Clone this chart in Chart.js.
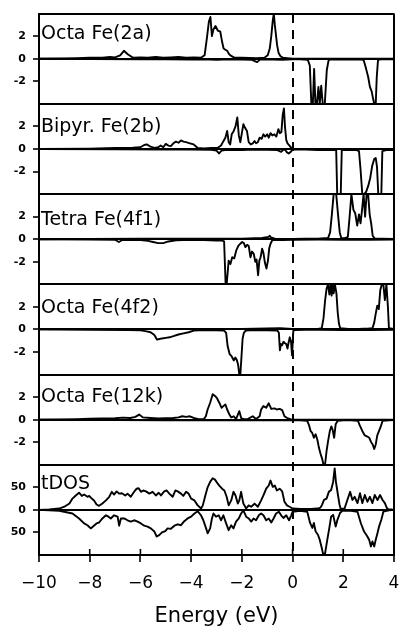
<!DOCTYPE html>
<html>
<head>
<meta charset="utf-8">
<script src="https://cdn.jsdelivr.net/npm/chart.js@4.4.1/dist/chart.umd.min.js"></script>
<style>
  html, body { margin: 0; padding: 0; background: #fff; }
  #wrap { width: 400px; height: 627px; }
</style>
</head>
<body>
<div id="wrap"><canvas id="c" width="400" height="627"></canvas></div>
<script>
// ---------- data (energy in eV, DOS values) ----------
const panelNames = ['Octa Fe(2a)', 'Bipyr. Fe(2b)', 'Tetra Fe(4f1)', 'Octa Fe(4f2)', 'Octa Fe(12k)', 'tDOS'];
const xTitle = 'Energy (eV)';
const xTicksStep = 2;
const pdosLimit = 4;     // partial DOS axis range +/-4, ticks -2, 0, 2
const pdosStep = 2;
const tdosLimit = 100;   // total DOS axis range, ticks at +/-50
const tdosStep = 50;

const fe2aUp = [[-10,0],[-9,0.02],[-8.5,0.05],[-8,0.08],[-7.5,0.1],[-7.2,0.15],[-7.0,0.12],[-6.8,0.3],[-6.65,0.7],[-6.5,0.4],[-6.3,0.1],[-6.0,0.12],[-5.7,0.08],[-5.4,0.15],[-5.1,0.1],[-4.8,0.12],[-4.5,0.15],[-4.2,0.1],[-3.9,0.12],[-3.6,0.1],[-3.47,0.3],[-3.38,1.8],[-3.3,3.3],[-3.24,3.7],[-3.18,2.0],[-3.12,2.6],[-3.04,2.9],[-2.95,2.5],[-2.85,2.4],[-2.78,1.5],[-2.72,0.9],[-2.65,0.8],[-2.58,0.7],[-2.5,0.4],[-2.42,0.25],[-2.3,0.1],[-2.0,0.08],[-1.7,0.06],[-1.4,0.05],[-1.1,0.1],[-0.98,0.3],[-0.9,0.9],[-0.84,2.0],[-0.78,3.4],[-0.74,4],[-0.7,3.0],[-0.66,2.2],[-0.61,1.2],[-0.55,0.5],[-0.47,0.2],[-0.38,0.1],[-0.2,0.05],[0,0],[4,0]];
const fe2aDown = [[-10,0],[-8,-0.03],[-6,-0.05],[-5,-0.05],[-4,-0.08],[-3.5,-0.05],[-3.0,-0.1],[-2.5,-0.05],[-2.0,-0.08],[-1.6,-0.1],[-1.4,-0.3],[-1.3,-0.1],[-1.2,-0.05],[-0.8,-0.08],[-0.4,-0.1],[0,-0.05],[0.3,-0.05],[0.6,-0.1],[0.68,-0.6],[0.74,-4],[0.8,-4],[0.85,-0.9],[0.9,-4],[0.96,-4],[1.02,-2.5],[1.07,-4],[1.13,-2.4],[1.19,-4],[1.27,-4],[1.35,-1.0],[1.42,-0.15],[1.5,-0.05],[2.0,-0.08],[2.5,-0.05],[2.8,-0.1],[2.9,-0.9],[2.98,-1.6],[3.05,-2.5],[3.12,-2.9],[3.18,-3.6],[3.22,-4],[3.28,-4],[3.32,-1.6],[3.37,-0.1],[3.5,-0.05],[4,-0.05]];

const fe2bUp = [[-10,0],[-8,0.03],[-7,0.08],[-6.3,0.1],[-6.0,0.15],[-5.85,0.35],[-5.75,0.4],[-5.6,0.2],[-5.45,0.1],[-5.3,0.15],[-5.2,0.3],[-5.1,0.15],[-5.0,0.45],[-4.9,0.3],[-4.8,0.25],[-4.7,0.5],[-4.6,0.65],[-4.5,0.55],[-4.4,0.75],[-4.3,0.65],[-4.2,0.6],[-4.05,0.5],[-3.9,0.4],[-3.75,0.1],[-3.5,0.05],[-3.2,0.08],[-2.95,0.1],[-2.82,0.3],[-2.75,0.6],[-2.65,1.0],[-2.58,1.6],[-2.52,0.6],[-2.46,0.4],[-2.4,1.3],[-2.32,1.6],[-2.25,2.0],[-2.18,2.8],[-2.12,1.2],[-2.06,0.6],[-2.0,1.4],[-1.94,2.2],[-1.88,1.9],[-1.8,1.6],[-1.73,0.6],[-1.65,0.4],[-1.57,0.5],[-1.5,0.7],[-1.44,0.5],[-1.37,0.6],[-1.3,1.0],[-1.22,0.9],[-1.15,1.3],[-1.08,1.1],[-1.0,1.3],[-0.94,1.0],[-0.87,1.4],[-0.8,1.2],[-0.72,1.3],[-0.64,1.1],[-0.56,1.75],[-0.5,1.4],[-0.44,1.5],[-0.39,3.0],[-0.34,3.6],[-0.3,2.0],[-0.25,0.8],[-0.2,0.5],[-0.12,0.3],[-0.05,0.1],[0,0],[4,0]];
const fe2bDown = [[-10,0],[-7,-0.03],[-5,-0.05],[-4,-0.05],[-3.2,-0.08],[-3.0,-0.15],[-2.9,-0.4],[-2.8,-0.15],[-2.6,-0.08],[-2.0,-0.1],[-1.5,-0.05],[-1.0,-0.08],[-0.6,-0.1],[-0.45,-0.25],[-0.38,-0.1],[-0.3,-0.05],[-0.22,-0.3],[-0.15,-0.4],[-0.05,-0.2],[0,-0.05],[0.5,-0.05],[1.0,-0.1],[1.5,-0.08],[1.72,-0.1],[1.76,-4],[1.9,-4],[1.94,-0.1],[2.2,-0.1],[2.5,-0.08],[2.62,-0.2],[2.68,-1.8],[2.75,-4],[2.82,-4],[2.9,-3.8],[2.98,-3.3],[3.06,-2.6],[3.14,-1.5],[3.22,-0.9],[3.28,-0.8],[3.33,-1.6],[3.38,-4],[3.5,-4],[3.54,-0.2],[3.7,-0.1],[4,-0.1]];

const fe4f1Up = [[-10,0],[-8,0.03],[-6,0.05],[-4,0.05],[-2,0.05],[-1.2,0.1],[-0.95,0.2],[-0.9,0.3],[-0.85,0.15],[-0.7,0.05],[0,0.03],[0.5,0.05],[1.0,0.05],[1.4,0.1],[1.48,0.6],[1.55,2.2],[1.62,4],[1.72,4],[1.8,2.0],[1.86,0.6],[1.92,0.1],[2.05,0.08],[2.18,0.2],[2.25,2.0],[2.32,4],[2.4,2.6],[2.47,2.3],[2.55,1.2],[2.62,2.2],[2.68,1.4],[2.74,2.6],[2.8,4],[2.86,2.0],[2.92,4],[2.98,4],[3.04,2.2],[3.1,1.4],[3.16,0.3],[3.24,0.05],[3.5,0.05],[4,0.03]];
const fe4f1Down = [[-10,0],[-8,-0.03],[-7.0,-0.05],[-6.85,-0.25],[-6.7,-0.05],[-6.0,-0.08],[-5.7,-0.15],[-5.5,-0.25],[-5.3,-0.35],[-5.1,-0.35],[-4.9,-0.2],[-4.6,-0.1],[-4.0,-0.05],[-3.5,-0.08],[-3.0,-0.12],[-2.8,-0.1],[-2.7,-0.2],[-2.64,-4],[-2.6,-4],[-2.52,-1.9],[-2.45,-2.2],[-2.38,-1.6],[-2.3,-1.7],[-2.22,-1.0],[-2.14,-0.6],[-2.06,-0.4],[-1.99,-0.25],[-1.92,-0.35],[-1.86,-0.7],[-1.79,-0.5],[-1.73,-0.6],[-1.66,-1.6],[-1.6,-1.1],[-1.53,-1.3],[-1.47,-2.0],[-1.42,-1.8],[-1.36,-3.2],[-1.31,-1.9],[-1.26,-1.6],[-1.2,-0.85],[-1.15,-1.2],[-1.09,-2.1],[-1.03,-2.6],[-0.97,-1.9],[-0.92,-0.8],[-0.87,-0.4],[-0.8,-0.1],[-0.7,-0.05],[-0.4,-0.08],[0,-0.05],[1,-0.03],[2,-0.05],[3,-0.05],[4,-0.03]];

const fe4f2Up = [[-10,0],[-8,0.03],[-6,0.05],[-4,0.05],[-2,0.05],[-1.0,0.08],[-0.5,0.1],[0,0.05],[0.5,0.03],[1.0,0.05],[1.15,0.1],[1.22,1.0],[1.28,2.5],[1.34,3.6],[1.4,4],[1.45,3.1],[1.5,4],[1.54,3.0],[1.58,4],[1.62,3.2],[1.67,4],[1.73,3.2],[1.78,1.5],[1.83,0.5],[1.88,0.1],[2.2,0.05],[2.6,0.05],[3.0,0.08],[3.15,0.1],[3.22,0.6],[3.28,1.4],[3.34,2.1],[3.4,1.8],[3.46,3.5],[3.52,4],[3.58,4],[3.64,2.6],[3.7,4],[3.76,2.0],[3.8,0.1],[4,0.05]];
const fe4f2Down = [[-10,0],[-8,-0.03],[-6.5,-0.05],[-6.0,-0.08],[-5.8,-0.15],[-5.6,-0.25],[-5.45,-0.5],[-5.35,-0.9],[-5.25,-0.85],[-5.15,-0.8],[-5.0,-0.75],[-4.85,-0.7],[-4.7,-0.6],[-4.5,-0.45],[-4.3,-0.35],[-4.1,-0.25],[-3.9,-0.1],[-3.5,-0.05],[-3.0,-0.08],[-2.7,-0.1],[-2.62,-0.3],[-2.56,-1.5],[-2.48,-2.2],[-2.4,-2.4],[-2.32,-2.75],[-2.26,-2.5],[-2.2,-2.7],[-2.15,-3.1],[-2.1,-4],[-2.06,-4],[-2.02,-2.6],[-1.97,-0.8],[-1.92,-0.3],[-1.85,-0.1],[-1.5,-0.05],[-1.0,-0.08],[-0.6,-0.1],[-0.54,-0.3],[-0.5,-1.85],[-0.46,-1.3],[-0.41,-1.4],[-0.36,-1.1],[-0.31,-1.2],[-0.25,-1.3],[-0.2,-1.7],[-0.16,-1.2],[-0.11,-0.7],[-0.06,-1.1],[-0.02,-2.3],[0.03,-0.1],[0.1,-0.05],[0.5,-0.03],[1,-0.03],[2,-0.05],[3,-0.05],[4,-0.03]];

const fe12kUp = [[-10,0],[-9,0.02],[-8.5,0.05],[-8,0.08],[-7.5,0.1],[-7,0.12],[-6.7,0.18],[-6.4,0.15],[-6.2,0.25],[-6.05,0.45],[-5.9,0.2],[-5.6,0.15],[-5.3,0.1],[-5.0,0.12],[-4.7,0.15],[-4.5,0.2],[-4.35,0.3],[-4.2,0.25],[-4.05,0.3],[-3.9,0.15],[-3.7,0.05],[-3.5,0.05],[-3.42,0.3],[-3.35,0.9],[-3.25,1.5],[-3.15,2.25],[-3.06,2.1],[-2.98,1.9],[-2.89,1.5],[-2.8,1.05],[-2.73,1.2],[-2.65,1.35],[-2.58,0.9],[-2.49,0.45],[-2.42,0.2],[-2.32,0.3],[-2.23,0.05],[-2.1,0.75],[-2.02,0.1],[-1.9,0.05],[-1.77,0.05],[-1.57,0.3],[-1.44,0.05],[-1.3,0.3],[-1.24,0.9],[-1.15,1.2],[-1.04,1.05],[-0.94,1.45],[-0.84,0.95],[-0.71,1.0],[-0.62,0.9],[-0.51,0.95],[-0.41,0.85],[-0.32,0.3],[-0.18,0.1],[-0.05,0.02],[0,0],[4,0]];
const fe12kDown = [[-10,0],[-7,-0.03],[-5,-0.05],[-3,-0.05],[-1,-0.05],[0,-0.03],[0.3,-0.05],[0.58,-0.1],[0.65,-0.5],[0.71,-1.0],[0.78,-1.2],[0.84,-1.6],[0.91,-1.3],[0.98,-1.8],[1.04,-2.5],[1.1,-3.0],[1.17,-3.5],[1.22,-4],[1.28,-4],[1.34,-2.8],[1.4,-1.9],[1.47,-1.0],[1.53,-0.6],[1.58,-0.9],[1.64,-1.6],[1.7,-0.4],[1.78,-0.1],[2.0,-0.05],[2.3,-0.05],[2.58,-0.1],[2.65,-0.5],[2.75,-1.0],[2.85,-1.4],[2.95,-1.5],[3.02,-1.6],[3.1,-2.0],[3.16,-2.2],[3.22,-2.6],[3.28,-2.2],[3.34,-1.4],[3.41,-1.0],[3.48,-0.6],[3.55,-0.1],[3.8,-0.05],[4,-0.03]];

const tdosUp = [[-10,0],[-9.6,1],[-9.2,3],[-9.0,7],[-8.8,14],[-8.68,25],[-8.55,32],[-8.42,38],[-8.31,31],[-8.22,34],[-8.09,29],[-8.02,31],[-7.92,25],[-7.83,21],[-7.73,12],[-7.63,9],[-7.5,14],[-7.36,21],[-7.23,29],[-7.13,40],[-7.04,34],[-6.94,41],[-6.84,36],[-6.73,37],[-6.6,32],[-6.51,36],[-6.38,29],[-6.25,40],[-6.15,47],[-6.07,48],[-5.98,40],[-5.89,43],[-5.78,41],[-5.65,36],[-5.52,40],[-5.39,32],[-5.28,38],[-5.19,32],[-5.06,41],[-4.97,43],[-4.86,36],[-4.73,29],[-4.62,43],[-4.53,41],[-4.4,36],[-4.31,31],[-4.2,40],[-4.1,36],[-4.0,25],[-3.87,21],[-3.74,10],[-3.61,3],[-3.54,10],[-3.44,32],[-3.35,50],[-3.25,62],[-3.15,70],[-3.06,67],[-2.95,58],[-2.89,54],[-2.78,47],[-2.69,43],[-2.6,29],[-2.52,10],[-2.42,21],[-2.33,40],[-2.25,32],[-2.16,14],[-2.1,21],[-2.03,40],[-1.94,14],[-1.83,3],[-1.73,10],[-1.63,7],[-1.5,14],[-1.37,7],[-1.24,21],[-1.15,32],[-1.04,47],[-0.94,54],[-0.87,65],[-0.78,51],[-0.7,54],[-0.62,43],[-0.51,47],[-0.41,41],[-0.32,18],[-0.22,10],[-0.12,7],[0,3],[0.3,2],[0.7,2],[1.0,3],[1.1,5],[1.17,12],[1.24,22],[1.34,25],[1.43,40],[1.52,44],[1.6,62],[1.66,92],[1.71,62],[1.79,33],[1.85,12],[1.9,2],[2.05,3],[2.16,22],[2.27,40],[2.36,22],[2.45,29],[2.56,15],[2.66,37],[2.75,15],[2.85,33],[2.95,18],[3.05,29],[3.15,15],[3.24,33],[3.35,22],[3.45,33],[3.55,22],[3.64,15],[3.72,4],[3.78,1],[3.9,1],[4,0]];
const tdosDown = [[-10,0],[-9.2,-2],[-8.68,-8],[-8.42,-19],[-8.22,-30],[-8.09,-34],[-7.96,-41],[-7.87,-37],[-7.73,-30],[-7.63,-28],[-7.5,-19],[-7.36,-12],[-7.26,-15],[-7.17,-19],[-7.04,-12],[-6.9,-15],[-6.84,-35],[-6.77,-19],[-6.64,-19],[-6.51,-23],[-6.38,-26],[-6.25,-23],[-6.11,-26],[-5.98,-30],[-5.85,-35],[-5.72,-37],[-5.59,-41],[-5.45,-48],[-5.36,-59],[-5.26,-56],[-5.15,-50],[-5.02,-47],[-4.93,-41],[-4.8,-42],[-4.66,-35],[-4.53,-32],[-4.4,-34],[-4.27,-25],[-4.14,-19],[-4.0,-15],[-3.87,-8],[-3.74,-3],[-3.61,-12],[-3.52,-23],[-3.41,-41],[-3.35,-52],[-3.25,-41],[-3.18,-19],[-3.12,-8],[-3.02,-15],[-2.91,-12],[-2.82,-23],[-2.73,-12],[-2.62,-30],[-2.52,-45],[-2.42,-34],[-2.33,-41],[-2.23,-26],[-2.12,-19],[-2.03,-8],[-1.94,-1],[-1.83,-15],[-1.73,-19],[-1.63,-26],[-1.54,-19],[-1.44,-23],[-1.33,-12],[-1.24,-8],[-1.15,-12],[-1.04,-23],[-0.94,-19],[-0.84,-28],[-0.75,-19],[-0.65,-8],[-0.54,-4],[-0.45,-12],[-0.36,-18],[-0.25,-12],[-0.14,-23],[-0.05,-12],[0,-4],[0.3,-2],[0.58,-4],[0.69,-29],[0.78,-40],[0.84,-29],[0.91,-48],[1.0,-55],[1.07,-66],[1.15,-84],[1.2,-97],[1.28,-97],[1.37,-66],[1.45,-40],[1.52,-15],[1.6,-11],[1.7,-37],[1.77,-22],[1.87,-7],[1.96,-2],[2.3,-2],[2.56,-4],[2.69,-29],[2.82,-48],[2.95,-59],[3.02,-66],[3.09,-81],[3.15,-70],[3.22,-81],[3.28,-66],[3.35,-51],[3.41,-37],[3.5,-22],[3.58,-4],[3.8,-1],[4,0]];

// ---------- styling / layout ----------
const FONT = 'DejaVu Sans';
const axisIds = ['y1', 'y2', 'y3', 'y4', 'y5', 'y6'];
const labelBaselineOffsets = [25.5, 28.5, 31, 28.5, 27, 24];
const series = [
  [fe2aUp, fe2aDown], [fe2bUp, fe2bDown], [fe4f1Up, fe4f1Down],
  [fe4f2Up, fe4f2Down], [fe12kUp, fe12kDown], [tdosUp, tdosDown]
];

const datasets = [];
series.forEach((pair, i) => {
  pair.forEach((arr, j) => {
    datasets.push({
      label: panelNames[i] + (j === 0 ? ' up' : ' down'),
      data: arr.map(p => ({x: p[0], y: p[1]})),
      xAxisID: 'x',
      yAxisID: axisIds[i],
      borderColor: '#000',
      borderWidth: 1.9,
      pointRadius: 0,
      fill: false,
      tension: 0,
      borderJoinStyle: 'round'
    });
  });
});

function yAxis(i) {
  const isT = i === 5;
  const lim = isT ? tdosLimit : pdosLimit;
  const step = isT ? tdosStep : pdosStep;
  return {
    type: 'linear', position: 'left', stack: 'dos', stackWeight: 1, weight: 10 - i,
    min: -lim, max: lim,
    afterFit: s => { s.width = 39; },
    ticks: {
      stepSize: step, autoSkip: false, color: '#000', padding: 7,
      font: { family: FONT, weight: 'bold', size: 11 },
      callback: v => Math.abs(v) >= lim ? '' : (isT ? String(Math.abs(v)) : String(v))
    },
    grid: {
      color: c => (c.tick.value === 0 || Math.abs(c.tick.value) === lim) ? '#000' : 'rgba(0,0,0,0)',
      lineWidth: 2,
      tickColor: c => Math.abs(c.tick.value) === lim ? 'rgba(0,0,0,0)' : '#000',
      tickLength: 6, tickWidth: 1.6
    },
    border: { display: true, color: '#000', width: 2 }
  };
}

const scales = {
  x: {
    type: 'linear', position: 'bottom', min: -10, max: 4,
    afterFit: s => { s.height = 72; s.paddingLeft = 0; s.paddingRight = 0; },
    ticks: {
      stepSize: xTicksStep, color: '#000', padding: 11, maxRotation: 0, autoSkip: false,
      font: { family: FONT, size: 17 },
      callback: v => v < 0 ? '\u2212' + Math.abs(v) : String(v)
    },
    grid: {
      color: c => c.tick.value === 4 ? '#000' : 'rgba(0,0,0,0)',
      lineWidth: 2, tickColor: '#000', tickLength: 7, tickWidth: 1.6
    },
    border: { display: true, color: '#000', width: 2 },
    title: { display: true, text: xTitle, color: '#000', font: { family: FONT, size: 21, lineHeight: 1 }, padding: 0 }
  },
  x2: {
    type: 'linear', position: 'top', min: -10, max: 4,
    afterFit: s => { s.height = 0; s.paddingLeft = 0; s.paddingRight = 0; },
    ticks: { display: false, stepSize: xTicksStep },
    grid: { color: c => c.tick.value === 0 ? '#000' : 'rgba(0,0,0,0)', lineWidth: 2, drawTicks: false },
    border: { display: false, dash: [9, 7] }
  }
};
axisIds.forEach((id, i) => { scales[id] = yAxis(i); });

const innerTicks = {
  id: 'innerTicks',
  afterDraw(chart) {
    const s = chart.scales.x, ctx = chart.ctx, a = chart.chartArea;
    ctx.save();
    ctx.strokeStyle = '#000'; ctx.lineWidth = 1.6;
    s.ticks.forEach(t => {
      const px = s.getPixelForValue(t.value);
      ctx.beginPath(); ctx.moveTo(px, a.bottom); ctx.lineTo(px, a.bottom - 6); ctx.stroke();
    });
    ctx.restore();
  }
};

const panelLabels = {
  id: 'panelLabels',
  afterDatasetsDraw(chart) {
    const ctx = chart.ctx;
    ctx.save();
    ctx.font = '19px "' + FONT + '"';
    ctx.fillStyle = '#000';
    ctx.textAlign = 'left';
    ctx.textBaseline = 'alphabetic';
    axisIds.forEach((id, i) => {
      const s = chart.scales[id];
      ctx.fillText(panelNames[i], chart.chartArea.left + 2, s.top + labelBaselineOffsets[i]);
    });
    ctx.restore();
  }
};

new Chart(document.getElementById('c'), {
  type: 'line',
  data: { datasets },
  options: {
    responsive: false,
    animation: false,
    devicePixelRatio: 1,
    layout: { padding: { left: 0, right: 6, top: 13, bottom: 0 } },
    plugins: { legend: { display: false }, tooltip: { enabled: false } },
    scales
  },
  plugins: [innerTicks, panelLabels]
});
</script>
</body>
</html>
